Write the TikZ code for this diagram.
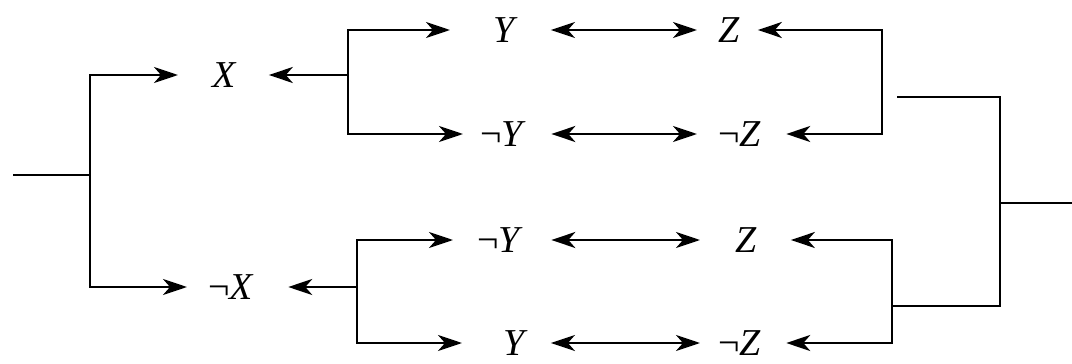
\documentclass[tikz,border=0pt]{standalone}
\usepackage{fontspec}
\setmainfont{Liberation Serif}
\usetikzlibrary{arrows.meta}
\begin{document}
\begin{tikzpicture}[x=1pt,y=-1pt,
  wire/.style={line width=2.4pt},
  tip/.tip={Stealth[length=24pt,width=16pt,inset=7pt]},
  arr/.style={wire,-tip},
  darr/.style={wire,tip-tip},
  lit/.style={inner sep=0pt,anchor=west,text height=25pt,text depth=0pt,
              font=\fontsize{38}{42}\selectfont}]
\useasboundingbox (0,0) rectangle (1072,364);

% literals
\node[lit] (X)   at (212,75)  {\textit{X}};
\node[lit] (nX)  at (208,287) {¬\textit{X}};
\node[lit] (Y1)  at (493,30)  {\textit{Y}};
\node[lit] (nY1) at (480,134) {¬\textit{Y}};
\node[lit] (Z1)  at (718,30)  {\textit{Z}};
\node[lit] (nZ1) at (718,134) {¬\textit{Z}};
\node[lit] (nY2) at (477,240) {¬\textit{Y}};
\node[lit] (Z2)  at (735,240) {\textit{Z}};
\node[lit] (Y2)  at (503,343) {\textit{Y}};
\node[lit] (nZ2) at (718,343) {¬\textit{Z}};

% junction points
\coordinate (in)   at (13,175);
\coordinate (jl)   at (90,175);
\coordinate (jt)   at (348,75);
\coordinate (jb)   at (357,287);
\coordinate (rt)   at (882,82);
\coordinate (rtap) at (897,97);
\coordinate (rb)   at (892,306);
\coordinate (jr)   at (1000,203);
\coordinate (out)  at (1072,203);

% left fork
\draw[wire] (in) -- (jl);
\draw[arr] (jl) |- ([xshift=-34pt]X.west);
\draw[arr] (jl) |- ([xshift=-21pt]nX.west);

% upper fork
\draw[arr] (jt) -- ([xshift=32pt]X.east);
\draw[arr] (jt) |- ([xshift=-43pt]Y1.west);
\draw[arr] (jt) |- ([xshift=-17pt]nY1.west);

% lower fork
\draw[arr] (jb) -- ([xshift=34pt]nX.east);
\draw[arr] (jb) |- ([xshift=-24pt]nY2.west);
\draw[arr] (jb) |- ([xshift=-41pt]Y2.west);

% equivalences
\draw[darr] ([xshift=33pt]Y1.east)  -- ([xshift=-21pt]Z1.west);
\draw[darr] ([xshift=25pt]nY1.east) -- ([xshift=-21pt]nZ1.west);
\draw[darr] ([xshift=28pt]nY2.east) -- ([xshift=-35pt]Z2.west);
\draw[darr] ([xshift=23pt]Y2.east)  -- ([xshift=-18pt]nZ2.west);

% right forks
\draw[arr] (rt) |- ([xshift=18pt]Z1.east);
\draw[arr] (rt) |- ([xshift=25pt]nZ1.east);
\draw[arr] (rb) |- ([xshift=34pt]Z2.east);
\draw[arr] (rb) |- ([xshift=25pt]nZ2.east);

% output
\draw[wire] (out) -- (jr);
\draw[wire] (jr) |- (rtap);
\draw[wire] (jr) |- (rb);
\end{tikzpicture}
\end{document}
